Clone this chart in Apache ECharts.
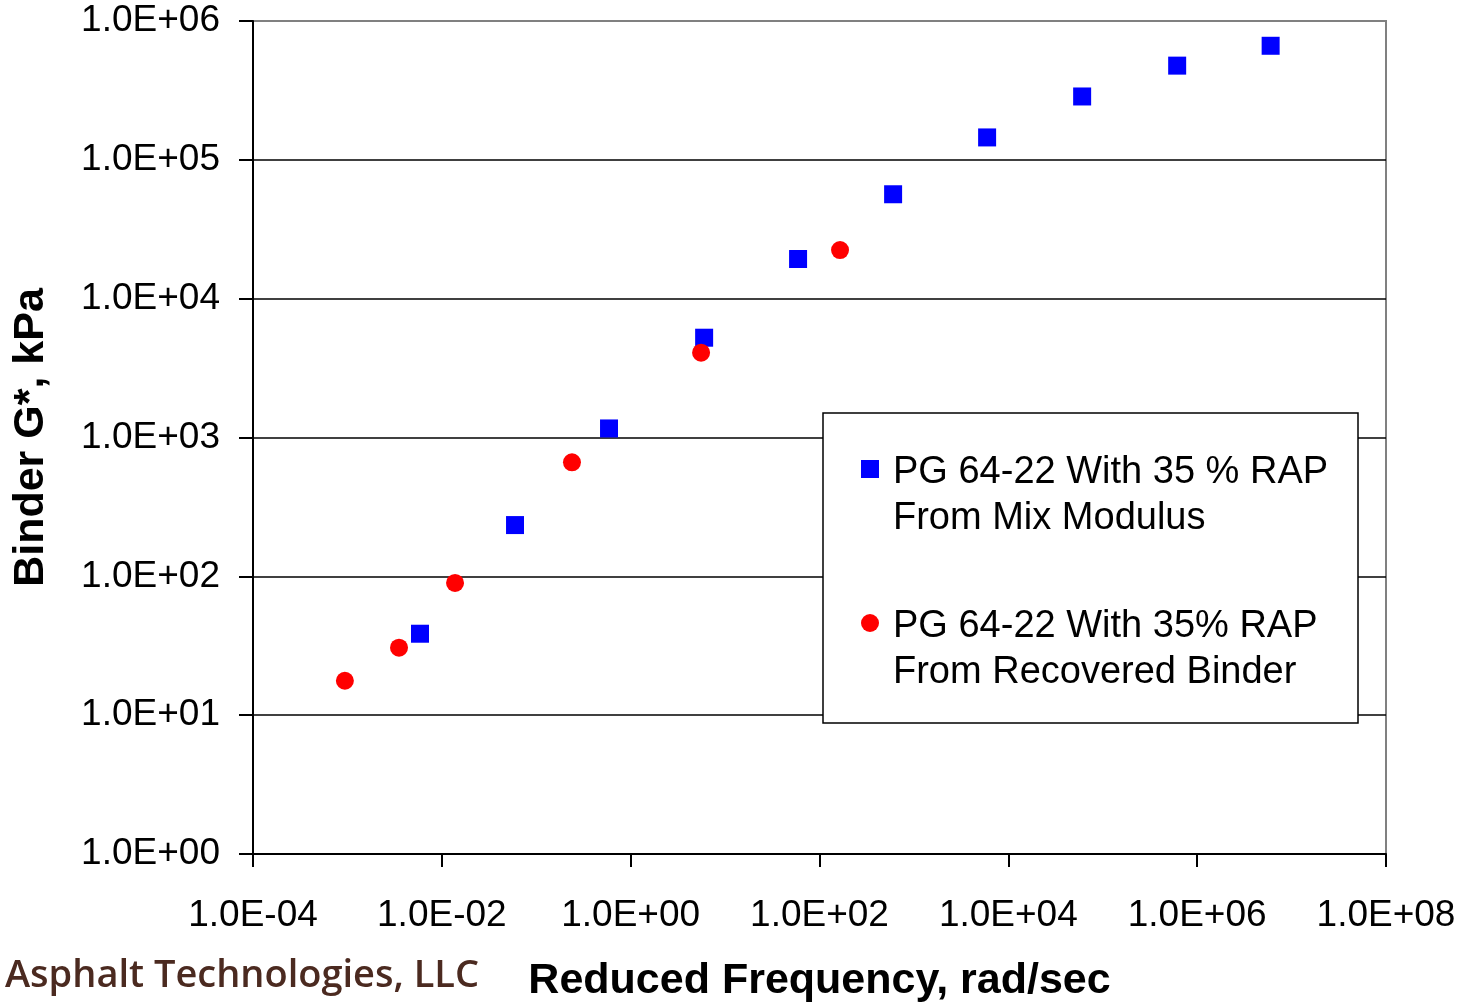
<!DOCTYPE html>
<html>
<head>
<meta charset="utf-8">
<script src="https://cdn.jsdelivr.net/npm/echarts@6/dist/echarts.min.js"></script>
<style>html,body{margin:0;padding:0;background:#fff;}#c{width:1470px;height:1008px;}</style>
</head>
<body>
<div id="c"></div>
<script>
// Data
const mixFreq = [0.00587, 0.0596, 0.59, 6.0, 59.3, 602, 5960, 60500, 614000, 6.0e6];
const mixGstar = [38.6, 234, 1162, 5233, 19300, 56500, 145000, 286000, 477000, 663000];
const recFreq = [0.00094, 0.00352, 0.0138, 0.239, 5.57, 165];
const recGstar = [17.7, 30.6, 89.7, 663, 4083, 22400];
const seriesNames = ['PG 64-22 With 35 % RAP\nFrom Mix Modulus', 'PG 64-22 With 35% RAP\nFrom Recovered Binder'];
const xTitle = 'Reduced Frequency, rad/sec';
const yTitle = 'Binder G*, kPa';
const brand = 'Asphalt Technologies, LLC';

function sci(v) {
  const e = Math.round(Math.log10(v));
  const a = Math.abs(e);
  return '1.0E' + (e < 0 ? '-' : '+') + (a < 10 ? '0' + a : '' + a);
}
function pairs(xs, ys) { return xs.map((x, i) => [x, ys[i]]); }

const chart = echarts.init(document.getElementById('c'), null, {renderer: 'canvas'});
const axisFont = {fontFamily: 'Liberation Sans, Arial, sans-serif', fontSize: 37, color: '#000'};
chart.setOption({
  animation: false,
  backgroundColor: '#fff',
  grid: {left: 253, right: 84, top: 21, bottom: 151, show: true, borderColor: '#808080', borderWidth: 2, backgroundColor: 'transparent'},
  xAxis: {
    type: 'log', logBase: 10, min: 1e-4, max: 1e8, interval: 2,
    name: xTitle, nameLocation: 'middle', nameGap: 106,
    nameTextStyle: {fontFamily: 'Liberation Sans, Arial, sans-serif', fontSize: 43, fontWeight: 'bold', color: '#000'},
    axisLine: {show: true, lineStyle: {color: '#000', width: 2}},
    axisTick: {show: true, inside: false, length: 13, lineStyle: {color: '#000', width: 2}},
    axisLabel: Object.assign({margin: 43, formatter: sci, showMinLabel: true, showMaxLabel: true}, axisFont),
    splitLine: {show: false}, minorTick: {show: false}
  },
  yAxis: {
    type: 'log', logBase: 10, min: 1, max: 1e6, interval: 1,
    name: yTitle, nameLocation: 'middle', nameGap: 200, nameRotate: 90,
    nameTextStyle: {fontFamily: 'Liberation Sans, Arial, sans-serif', fontSize: 43, fontWeight: 'bold', color: '#000'},
    axisLine: {show: true, lineStyle: {color: '#000', width: 2}},
    axisTick: {show: true, inside: false, length: 14, lineStyle: {color: '#000', width: 2}},
    axisLabel: Object.assign({margin: 33, formatter: sci}, axisFont),
    splitLine: {show: true, showMaxLine: false, lineStyle: {color: '#000', width: 1.5}},
    minorTick: {show: false}
  },
  legend: {
    orient: 'vertical', left: 861, top: 418, padding: 0, itemGap: 34,
    itemWidth: 18, itemHeight: 18, z: 6,
    formatter: function (name) {
      const parts = name.split('\n');
      return '{s| }\n{t|' + parts[0] + '}\n{t|' + parts[1] + '}';
    },
    textStyle: {
      fontFamily: 'Liberation Sans, Arial, sans-serif', fontSize: 38, color: '#000',
      rich: {
        s: {fontSize: 10, lineHeight: 54},
        t: {fontFamily: 'Liberation Sans, Arial, sans-serif', fontSize: 38, color: '#000', lineHeight: 46, padding: [0, 0, 0, 9]}
      }
    },
    data: [{name: seriesNames[0], icon: 'rect'}, {name: seriesNames[1], icon: 'circle'}]
  },
  graphic: [
    {type: 'rect', z: 5, shape: {x: 823, y: 413, width: 535, height: 310}, style: {fill: '#fff', stroke: '#000', lineWidth: 1.5}},
    {type: 'text', left: 5, top: 957, style: {text: brand, font: '600 38px "Open Sans", "Noto Sans", sans-serif', fill: '#4B2A20'}}
  ],
  series: [
    {name: seriesNames[0], type: 'scatter', symbol: 'rect', symbolSize: 18, itemStyle: {color: '#0000FF', opacity: 1}, data: pairs(mixFreq, mixGstar), z: 3},
    {name: seriesNames[1], type: 'scatter', symbol: 'circle', symbolSize: 18, itemStyle: {color: '#FF0000', opacity: 1}, data: pairs(recFreq, recGstar), z: 3}
  ]
});
</script>
</body>
</html>
